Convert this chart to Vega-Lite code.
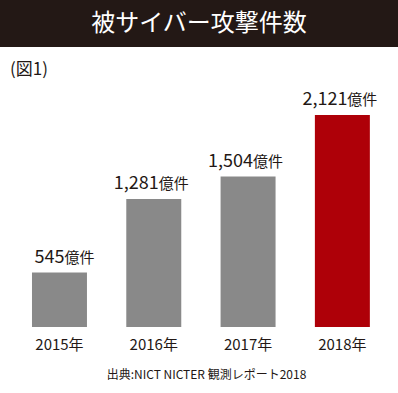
{
  "$schema": "https://vega.github.io/schema/vega-lite/v6.json",
  "padding": 0,
  "background": "white",
  "spacing": 14,
  "config": {
    "font": "Noto Sans CJK JP",
    "view": {"stroke": null},
    "text": {"color": "#231815"}
  },
  "vconcat": [
    {
      "width": 398,
      "height": 47,
      "view": {"fill": "#231815", "stroke": null},
      "data": {"values": [{"title": "被サイバー攻撃件数"}]},
      "mark": {"type": "text", "color": "white", "fontSize": 24, "baseline": "middle", "align": "center"},
      "encoding": {"text": {"field": "title", "type": "nominal"}}
    },
    {
      "width": 398,
      "height": 240,
      "title": {"text": "(図1)", "anchor": "start", "frame": "group", "fontSize": 17, "fontWeight": "normal", "color": "#231815", "offset": 8, "dx": 10},
      "data": {
        "values": [
          {"year": "2015年", "value": 545},
          {"year": "2016年", "value": 1281},
          {"year": "2017年", "value": 1504},
          {"year": "2018年", "value": 2121}
        ]
      },
      "encoding": {
        "x": {
          "field": "year",
          "type": "nominal",
          "sort": null,
          "scale": {"paddingInner": 0.417, "paddingOuter": 0.3188, "align": 0.532},
          "axis": {
            "title": "出典:NICT NICTER 観測レポート2018",
            "labelAngle": 0,
            "domain": false,
            "ticks": false,
            "labelFontSize": 15,
            "labelColor": "#231815",
            "labelPadding": 10,
            "titleFontSize": 12,
            "titleFontWeight": "normal",
            "titleColor": "#231815",
            "titlePadding": 17,
            "titleX": 206
          }
        },
        "y": {
          "field": "value",
          "type": "quantitative",
          "scale": {"domain": [0, 2400]},
          "axis": null
        }
      },
      "layer": [
        {
          "mark": {"type": "bar"},
          "encoding": {
            "color": {
              "condition": {"test": "datum.year === '2018年'", "value": "#ae0008"},
              "value": "#898989"
            }
          }
        },
        {
          "mark": {"type": "text", "align": "right", "baseline": "alphabetic", "dx": 5, "dy": -10, "fontSize": 18},
          "encoding": {"text": {"field": "value", "type": "quantitative", "format": ","}}
        },
        {
          "mark": {"type": "text", "align": "left", "baseline": "alphabetic", "dx": 5, "dy": -10, "fontSize": 15},
          "encoding": {"text": {"value": "億件"}}
        }
      ]
    }
  ]
}
